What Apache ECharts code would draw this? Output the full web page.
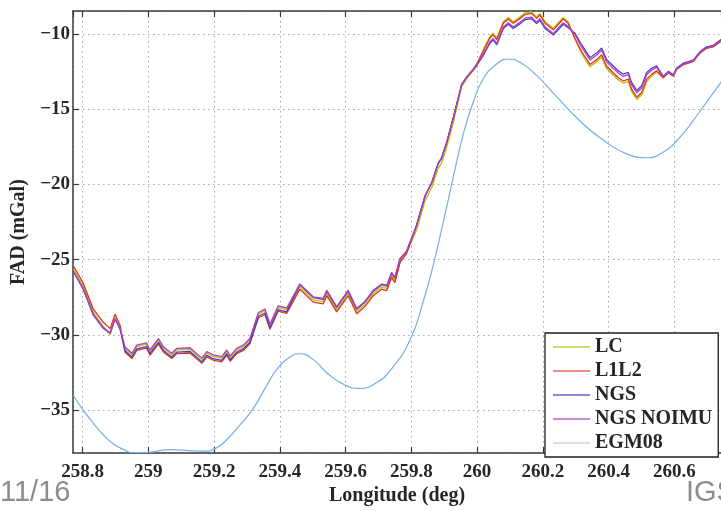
<!DOCTYPE html>
<html>
<head>
<meta charset="utf-8">
<script src="https://cdn.jsdelivr.net/npm/echarts@6/dist/echarts.min.js"></script>
<style>
  html, body { margin: 0; padding: 0; background: #fff; }
  #chart { width: 721px; height: 511px; }
</style>
</head>
<body>
<div id="chart"></div>
<script>
// Longitude samples (deg) shared by the four airborne gravity solutions
const lon = [
  258.774, 258.802, 258.833, 258.863, 258.884, 258.899, 258.914, 258.929, 258.950, 258.965,
  258.995, 259.005, 259.031, 259.046, 259.071, 259.087, 259.127, 259.163, 259.178, 259.198,
  259.223, 259.239, 259.249, 259.269, 259.289, 259.309, 259.335, 259.355, 259.370, 259.395,
  259.421, 259.461, 259.502, 259.532, 259.543, 259.573, 259.608, 259.634, 259.655, 259.670,
  259.684, 259.710, 259.725, 259.740, 259.750, 259.766, 259.786, 259.816, 259.842, 259.862,
  259.882, 259.892, 259.908, 259.928, 259.953, 259.969, 259.989, 259.999, 260.019, 260.039,
  260.049, 260.060, 260.080, 260.095, 260.110, 260.131, 260.146, 260.166, 260.181, 260.191,
  260.207, 260.232, 260.262, 260.277, 260.298, 260.318, 260.344, 260.364, 260.379, 260.394,
  260.414, 260.430, 260.445, 260.460, 260.470, 260.486, 260.501, 260.516, 260.531, 260.546,
  260.566, 260.582, 260.597, 260.607, 260.627, 260.643, 260.658, 260.678, 260.698, 260.719,
  260.739, 260.750
];

// Free-air disturbance (mGal) per solution
const lc = [
  -25.67, -26.76, -28.49, -29.45, -29.98, -28.85, -29.55, -30.89, -31.32, -30.78,
  -30.63, -31.10, -30.34, -30.89, -31.32, -30.99, -30.95, -31.64, -31.21, -31.43,
  -31.54, -31.10, -31.50, -30.99, -30.78, -30.34, -28.61, -28.39, -29.37, -28.17,
  -28.32, -26.81, -27.67, -27.78, -27.24, -28.32, -27.24, -28.44, -28.05, -27.65,
  -27.24, -26.81, -26.91, -26.05, -26.37, -25.07, -24.53, -23.04, -21.09, -20.22,
  -18.92, -18.59, -17.51, -15.88, -13.51, -12.96, -12.42, -12.10, -11.04, -10.17,
  -9.96, -10.28, -9.19, -8.91, -9.19, -8.87, -8.61, -8.54, -8.87, -8.65,
  -9.19, -9.63, -8.91, -9.19, -10.36, -11.32, -12.19, -11.86, -11.54, -12.30,
  -12.73, -13.06, -13.28, -13.16, -13.82, -14.36, -14.04, -13.16, -12.84, -12.52,
  -12.91, -12.56, -12.78, -12.32, -12.00, -11.89, -11.78, -11.24, -10.91, -10.81,
  -10.48, -10.30
];
const l1l2 = [
  -25.47, -26.56, -28.29, -29.16, -29.58, -28.63, -29.35, -31.14, -31.57, -31.03,
  -30.88, -31.35, -30.59, -31.14, -31.57, -31.24, -31.20, -31.89, -31.46, -31.68,
  -31.79, -31.35, -31.75, -31.24, -31.03, -30.59, -28.86, -28.64, -29.62, -28.42,
  -28.57, -26.96, -27.82, -27.93, -27.39, -28.47, -27.39, -28.59, -28.20, -27.80,
  -27.39, -26.96, -27.06, -26.20, -26.52, -25.17, -24.58, -22.74, -20.79, -19.92,
  -18.62, -18.29, -17.21, -15.58, -13.41, -12.86, -12.32, -12.00, -11.14, -10.27,
  -10.06, -10.38, -9.29, -9.01, -9.29, -8.97, -8.71, -8.64, -8.97, -8.75,
  -9.29, -9.73, -9.01, -9.29, -10.31, -11.17, -12.04, -11.71, -11.39, -12.15,
  -12.58, -12.91, -13.13, -13.01, -13.67, -14.21, -13.89, -13.01, -12.69, -12.45,
  -12.91, -12.59, -12.81, -12.37, -12.05, -11.94, -11.83, -11.29, -10.96, -10.86,
  -10.53, -10.35
];
const ngs = [
  -25.87, -26.96, -28.69, -29.56, -29.88, -28.95, -29.62, -31.04, -31.47, -30.93,
  -30.78, -31.25, -30.49, -31.04, -31.47, -31.14, -31.10, -31.79, -31.36, -31.58,
  -31.69, -31.25, -31.65, -31.14, -30.93, -30.49, -28.76, -28.54, -29.52, -28.32,
  -28.47, -26.66, -27.52, -27.63, -27.09, -28.17, -27.09, -28.29, -27.90, -27.50,
  -27.09, -26.66, -26.76, -25.90, -26.22, -24.92, -24.43, -22.69, -20.74, -19.87,
  -18.57, -18.24, -17.16, -15.53, -13.36, -12.86, -12.37, -12.10, -11.44, -10.62,
  -10.41, -10.73, -9.64, -9.36, -9.64, -9.32, -9.06, -8.99, -9.32, -9.10,
  -9.64, -10.08, -9.36, -9.59, -9.96, -10.72, -11.59, -11.26, -10.94, -11.70,
  -12.13, -12.46, -12.68, -12.56, -13.22, -13.76, -13.44, -12.56, -12.29, -12.12,
  -12.81, -12.49, -12.71, -12.27, -11.95, -11.84, -11.73, -11.19, -10.86, -10.76,
  -10.43, -10.25
];
const ngsNoimu = [
  -25.82, -26.91, -28.64, -29.51, -29.88, -28.93, -29.55, -30.79, -31.22, -30.68,
  -30.53, -31.00, -30.24, -30.79, -31.22, -30.89, -30.85, -31.54, -31.11, -31.33,
  -31.44, -31.00, -31.40, -30.89, -30.68, -30.24, -28.51, -28.29, -29.27, -28.07,
  -28.22, -26.61, -27.47, -27.58, -27.04, -28.12, -27.04, -28.24, -27.85, -27.45,
  -27.04, -26.61, -26.71, -25.85, -26.17, -24.92, -24.43, -22.74, -20.79, -19.92,
  -18.62, -18.29, -17.21, -15.58, -13.41, -12.86, -12.32, -12.05, -11.34, -10.52,
  -10.31, -10.63, -9.54, -9.26, -9.54, -9.22, -8.96, -8.89, -9.22, -9.00,
  -9.54, -9.98, -9.26, -9.50, -10.06, -10.87, -11.74, -11.41, -11.09, -11.85,
  -12.28, -12.61, -12.83, -12.71, -13.37, -13.91, -13.59, -12.71, -12.42, -12.22,
  -12.86, -12.54, -12.76, -12.32, -12.00, -11.89, -11.78, -11.24, -10.91, -10.81,
  -10.48, -10.30
];

// EGM08 model along the same track
const egmLon = [
  258.772, 258.802, 258.833, 258.863, 258.894, 258.934, 258.950, 259.000, 259.066, 259.137,
  259.178, 259.208, 259.239, 259.279, 259.319, 259.360, 259.391, 259.431, 259.461, 259.502,
  259.543, 259.593, 259.644, 259.695, 259.740, 259.796, 259.837, 259.867, 259.897, 259.928,
  259.958, 259.989, 260.019, 260.060, 260.095, 260.131, 260.181, 260.242, 260.313, 260.394,
  260.455, 260.516, 260.566, 260.617, 260.678, 260.739, 260.760
];
const egm = [
  -34.02, -35.00, -35.87, -36.63, -37.24, -37.71, -37.82, -37.80, -37.62, -37.70,
  -37.72, -37.50, -36.95, -35.98, -34.90, -33.37, -32.29, -31.46, -31.25, -31.64,
  -32.51, -33.27, -33.55, -33.16, -32.25, -30.34, -27.73, -25.34, -22.53, -19.49,
  -16.67, -14.49, -12.98, -12.00, -11.67, -11.89, -12.76, -14.17, -15.79, -17.21,
  -17.97, -18.23, -17.86, -16.88, -15.14, -13.30, -12.60
];

const seriesNames = ['LC', 'L1L2', 'NGS', 'NGS NOIMU', 'EGM08'];
const lineColors = ['#b4c400', '#e2321f', '#4a3fc0', '#b040bf', '#74aee6'];
const legendColors = ['#c3cf3a', '#e8685a', '#6a62d0', '#b664c4', '#c9d5ec'];

const X_MIN = 258.771, X_MAX = 260.742;
const Y_MIN = -37.85, Y_MAX = -8.48;

const serif = '"Liberation Serif", "DejaVu Serif", serif';
const ink = '#262626';
const frame = '#3a3a3a';
const gridLine = { show: true, lineStyle: { color: '#a8a8a8', width: 1, type: [1.5, 3.5] } };
const minus = v => String(Math.round(v * 10) / 10).replace('-', '\u2212');

const pair = (xs, ys) => xs.map((x, i) => [x, ys[i]]);
const tracks = [lc, l1l2, ngs, ngsNoimu];

const series = tracks.map((ys, k) => ({
  name: seriesNames[k],
  type: 'line',
  data: pair(lon, ys),
  showSymbol: false,
  color: lineColors[k],
  lineStyle: { width: 1.3, color: lineColors[k] },
  z: 2 + k
}));
series.push({
  name: seriesNames[4],
  type: 'line',
  data: pair(egmLon, egm),
  smooth: true,
  showSymbol: false,
  color: lineColors[4],
  lineStyle: { width: 1.2, color: lineColors[4] },
  z: 6
});

const chart = echarts.init(document.getElementById('chart'), null, { renderer: 'canvas' });
chart.setOption({
  animation: false,
  backgroundColor: '#ffffff',
  grid: { left: 73, right: 0, top: 11, bottom: 49, containLabel: false },
  xAxis: [
    {
      type: 'value', position: 'bottom', min: X_MIN, max: X_MAX, splitNumber: 10,
      axisLine: { show: true, onZero: false, lineStyle: { color: frame, width: 1.5 } },
      axisTick: { show: true, inside: true, length: 6, lineStyle: { color: frame, width: 1.2 } },
      axisLabel: {
        showMinLabel: false, showMaxLabel: false, margin: 9,
        fontFamily: serif, fontWeight: 'bold', fontSize: 19, color: ink
      },
      splitLine: gridLine,
      name: 'Longitude (deg)', nameLocation: 'middle', nameGap: 29,
      nameTextStyle: { fontFamily: serif, fontWeight: 'bold', fontSize: 20, color: ink }
    },
    {
      type: 'value', position: 'top', min: X_MIN, max: X_MAX, splitNumber: 10,
      axisLine: { show: true, onZero: false, lineStyle: { color: frame, width: 1.5 } },
      axisTick: { show: true, inside: true, length: 6, lineStyle: { color: frame, width: 1.2 } },
      axisLabel: { show: false },
      splitLine: { show: false }
    }
  ],
  yAxis: {
    type: 'value', min: Y_MIN, max: Y_MAX, splitNumber: 5,
    axisLine: { show: true, onZero: false, lineStyle: { color: frame, width: 1.5 } },
    axisTick: { show: true, inside: true, length: 6, lineStyle: { color: frame, width: 1.2 } },
    axisLabel: {
      showMinLabel: false, showMaxLabel: false, margin: 3, formatter: minus,
      fontFamily: serif, fontWeight: 'bold', fontSize: 19, color: ink
    },
    splitLine: gridLine,
    name: 'FAD (mGal)', nameLocation: 'middle', nameGap: 38,
    nameTextStyle: { fontFamily: serif, fontWeight: 'bold', fontSize: 20, color: ink }
  },
  legend: {
    orient: 'vertical', left: 545, top: 333,
    data: seriesNames.map((n, k) => ({ name: n, itemStyle: { color: legendColors[k] } })),
    icon: 'rect', itemWidth: 37, itemHeight: 1.5, itemGap: 4,
    padding: [4, 6, 4, 8],
    backgroundColor: '#ffffff', borderColor: '#1e1e1e', borderWidth: 1.3, borderRadius: 0,
    textStyle: { fontFamily: serif, fontWeight: 'bold', fontSize: 20, color: ink, lineHeight: 20 },
    selectedMode: false
  },
  graphic: [
    {
      type: 'text', left: 0, top: 478,
      style: { text: '11/16', fontFamily: '"Liberation Sans", Arial, sans-serif', fontSize: 29, fill: '#8c8c8c' }
    },
    {
      type: 'text', left: 686, top: 478,
      style: { text: 'IGS', fontFamily: '"Liberation Sans", Arial, sans-serif', fontSize: 29, fill: '#8c8c8c' }
    }
  ],
  series: series
});
</script>
</body>
</html>
